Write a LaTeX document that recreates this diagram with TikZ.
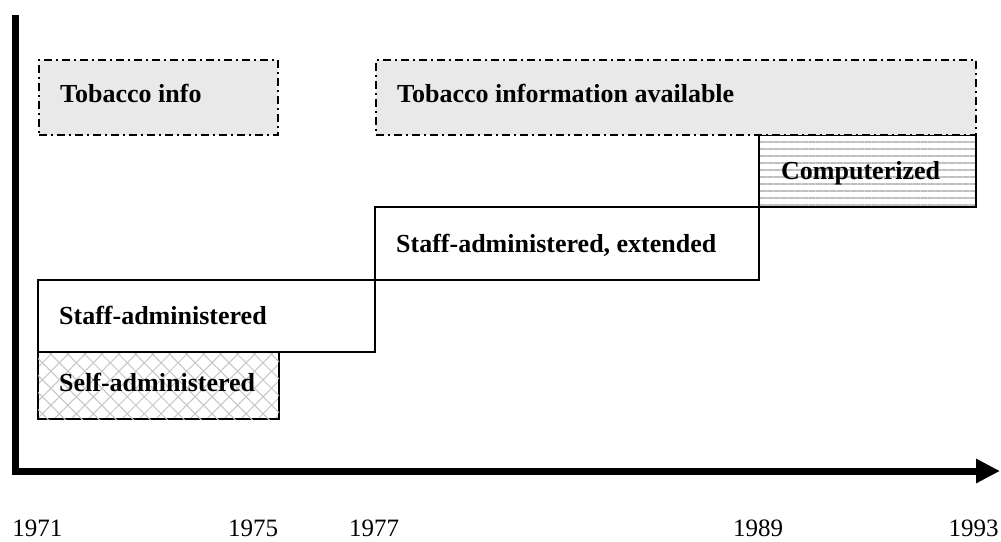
\documentclass[tikz,border=0pt]{standalone}
\usepackage{fontspec}
\setmainfont{Liberation Serif}
\usetikzlibrary{arrows.meta,patterns.meta}
\begin{document}
\begin{tikzpicture}[x=1pt,y=-1pt,
  box/.style={draw=black,line width=1.2pt,inner sep=0pt,outer sep=0pt,anchor=center},
  infobox/.style={draw=black,fill=gray!17,line width=1.8pt,inner sep=0pt,outer sep=0pt,
    dash pattern=on 8pt off 4pt on 2pt off 4pt},
  lbl/.style={anchor=base west,inner sep=0pt,font=\fontsize{26}{30}\selectfont\bfseries},
  year/.style={anchor=base,inner sep=0pt,font=\fontsize{25}{30}\selectfont},
  axis/.style={line width=7pt,line join=miter,-{Triangle[length=24pt,width=23pt]}}
]
\useasboundingbox (0,0) rectangle (1001,541);
% boxes
\node[box,minimum width=241pt,minimum height=67pt,
  pattern={Lines[angle=45,distance=12pt,line width=1pt]},pattern color=gray!45,
  postaction={pattern={Lines[angle=-45,distance=12pt,line width=1pt]},pattern color=gray!45}]
  (self) at (158.5,385.5) {};
\node[box,minimum width=337pt,minimum height=72pt] (staff) at (206.5,316) {};
\node[box,minimum width=384pt,minimum height=73pt] (ext) at (567,243.5) {};
\node[box,minimum width=217pt,minimum height=72pt,
  pattern={Lines[angle=0,distance=7pt,line width=2pt]},pattern color=gray!50]
  (comp) at (867.5,171) {};
\node[infobox,minimum width=239pt,minimum height=75pt] (tinfo) at (158.5,97.5) {};
\node[infobox,minimum width=600pt,minimum height=75pt] (tavail) at (676,97.5) {};
% labels
\node[lbl] (tinfol) at (60,102) {Tobacco info};
\node[lbl] (tavaill) at (397,102) {Tobacco information available};
\node[lbl] (compl) at (781,179) {Computerized};
\node[lbl] (extl) at (396,252) {Staff-administered, extended};
\node[lbl] (staffl) at (59,324) {Staff-administered};
\node[lbl] (selfl) at (59,391) {Self-administered};
% axes
\coordinate (ytop) at (15.5,15);
\coordinate (origin) at (15.5,471);
\coordinate (xend) at (1000,471);
\draw[axis] (ytop) -- (origin) -- (xend);
% years
\node[year] (y71) at (37.5,536) {1971};
\node[year] (y75) at (253,536) {1975};
\node[year] (y77) at (374,536) {1977};
\node[year] (y89) at (758,536) {1989};
\node[year] (y93) at (973.5,536) {1993};
\end{tikzpicture}
\end{document}
